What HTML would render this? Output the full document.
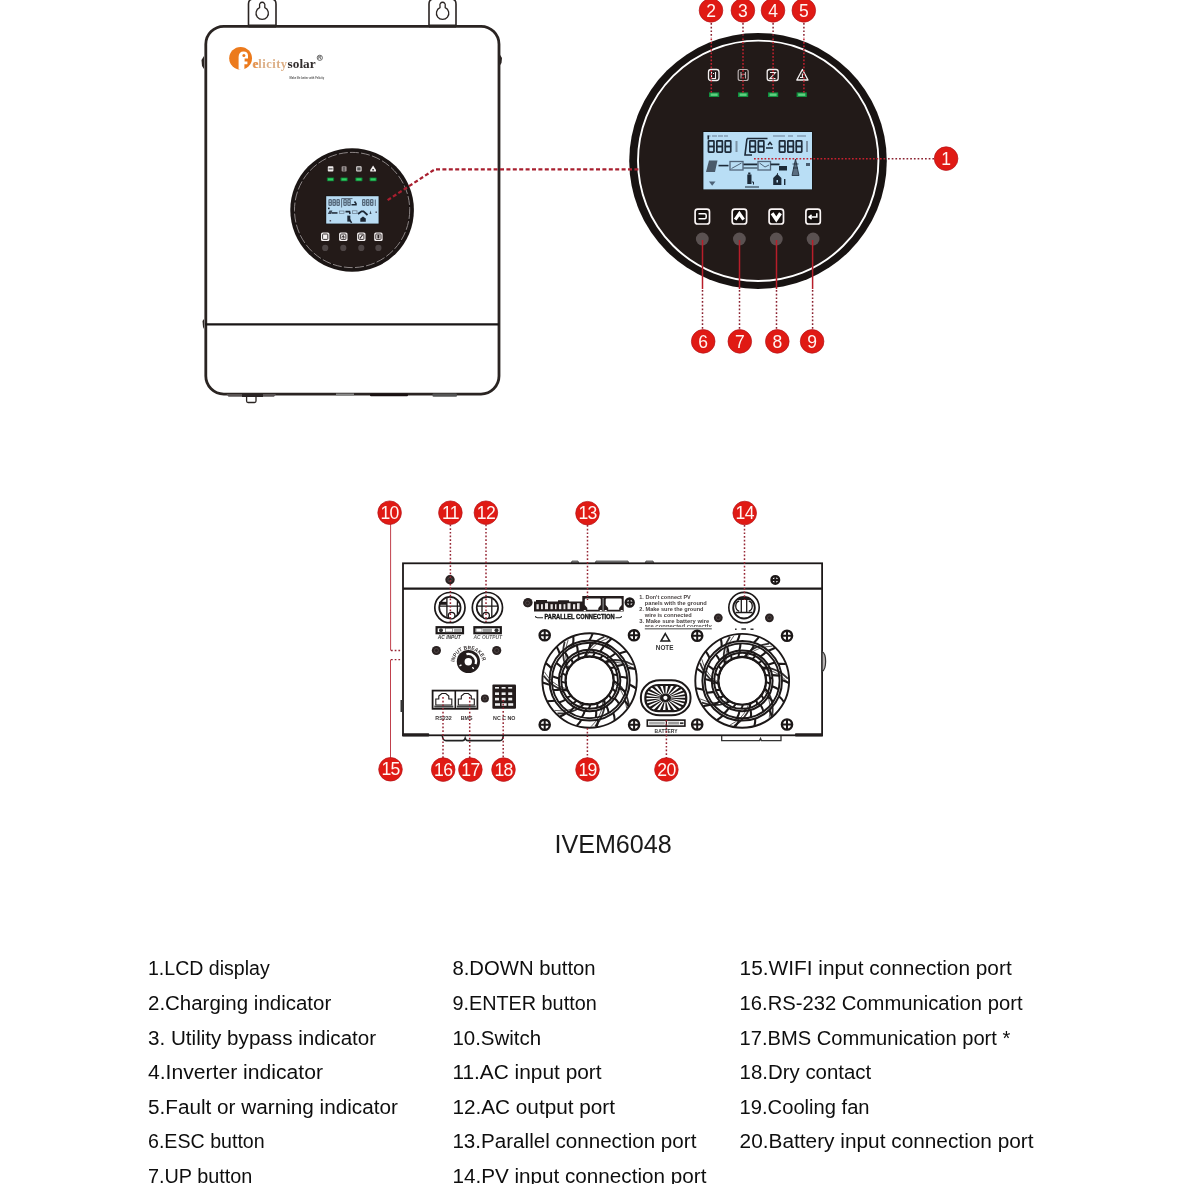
<!DOCTYPE html>
<html><head><meta charset="utf-8"><style>
html,body{margin:0;padding:0;background:#fff;width:1184px;height:1184px;overflow:hidden}
svg{display:block;position:absolute;left:0;top:0;will-change:transform}
</style></head><body>
<svg width="1184" height="1184" viewBox="0 0 1184 1184">
<path d="M248.5,27 L248.5,4 Q248.5,-1 253.5,-1 L271,-1 Q276,-1 276,4 L276,27" fill="#fff" stroke="#2a2422" stroke-width="1.6"/>
<path d="M259.60,7.6 A6.2,6.2 0 1 0 264.80,7.6 L264.80,5.7 A2.7,2.7 0 1 0 259.60,5.7 Z" fill="none" stroke="#2a2422" stroke-width="1.3"/>
<path d="M429,27 L429,4 Q429,-1 434,-1 L451,-1 Q456,-1 456,4 L456,27" fill="#fff" stroke="#2a2422" stroke-width="1.6"/>
<path d="M440.00,7.6 A6.2,6.2 0 1 0 445.20,7.6 L445.20,5.7 A2.7,2.7 0 1 0 440.00,5.7 Z" fill="none" stroke="#2a2422" stroke-width="1.3"/>
<rect x="205.8" y="26.3" width="293.2" height="367.8" rx="18" fill="#fff" stroke="#2a2422" stroke-width="2.8"/>
<rect x="248.5" y="24.5" width="27.5" height="3" fill="#2a2422"/>
<rect x="429" y="24.5" width="27" height="3" fill="#2a2422"/>
<line x1="205" y1="324.3" x2="499" y2="324.3" stroke="#1a1616" stroke-width="2.2"/>
<path d="M204,56 L201.5,60 L202,66 L204,69 Z" fill="#2a2422"/>
<path d="M499.5,54 L502,58 L501.5,63 L499.5,66 Z" fill="#2a2422"/>
<path d="M204,319 L202.5,321 L203,327 L204,329 Z" fill="#2a2422"/>
<path d="M226.5,394 L228.5,396.8 L274,396.8 L276,394 Z" fill="#5a5454"/>
<rect x="242" y="394" width="21" height="3" fill="#2a2424"/>
<path d="M246.6,396 L246.6,401 Q246.6,402.5 248,402.5 L254.5,402.5 Q256,402.5 256,401 L256,396" fill="none" stroke="#2a2422" stroke-width="1.3"/>
<rect x="370" y="393.5" width="38" height="2.8" rx="1" fill="#1a1212"/>
<rect x="432.5" y="393.5" width="24.5" height="3.2" rx="1" fill="#555"/>
<rect x="336" y="393.5" width="18" height="2" fill="#888"/>
<circle cx="240.6" cy="58.3" r="11.4" fill="#ec7a1c"/>
<path d="M238.6,69.6 L238.6,57 Q238.6,51.4 243.6,51.4 Q247.8,51.4 248,55.5 L248,58.4 L244.6,58.4 L244.6,61.6 L247.4,61.6 L247.4,64.2 L244.4,64.2 L244.4,69.4 Q241.5,70.3 238.6,69.6 Z" fill="#fff"/>
<circle cx="243.9" cy="55.6" r="1.5" fill="#ec7a1c"/>
<text x="252.3" y="68" font-family="Liberation Serif" font-weight="bold" font-size="12.5" fill="#dcae85" textLength="34.8" lengthAdjust="spacing">elicity</text>
<text x="253" y="68" font-family="Liberation Serif" font-weight="bold" font-size="12.5" fill="#e8924a">e</text>
<text x="287.6" y="68" font-family="Liberation Serif" font-weight="bold" font-size="12.5" fill="#332e2e" textLength="28" lengthAdjust="spacingAndGlyphs">solar</text>
<circle cx="319.8" cy="57.8" r="2.6" fill="none" stroke="#444" stroke-width="0.8"/>
<text x="319.8" y="59.3" text-anchor="middle" font-family="Liberation Sans" font-weight="bold" font-size="4" fill="#444">R</text>
<text x="289.6" y="79" font-family="Liberation Sans" font-weight="bold" font-size="3.2" fill="#555" textLength="34.5" lengthAdjust="spacingAndGlyphs">Make life better with Felicity</text>
<ellipse cx="758" cy="161" rx="128.8" ry="127.9" fill="#181312"/>
<circle cx="758.2" cy="160.8" r="119.4" fill="#221a18"/>
<circle cx="758.2" cy="160.8" r="120.2" fill="none" stroke="#fff" stroke-width="1.9"/>
<rect x="708.5" y="69.5" width="10.5" height="11" rx="2.5" fill="none" stroke="#f4f0f0" stroke-width="1.3"/><path d="M711.5,72 L711.5,78.5 L715.5,78.5 L715.5,72 M713,73.5 L714,73.5" fill="none" stroke="#f4f0f0" stroke-width="1.1"/><rect x="738.2" y="69.5" width="10" height="11" rx="2" fill="none" stroke="#b8b0b0" stroke-width="1.2"/><path d="M741,72 L741,78.5 M745.5,72 L745.5,78.5 M741,75 L745.5,74" fill="none" stroke="#b8b0b0" stroke-width="1.1"/><rect x="767.2" y="69.5" width="11" height="11" rx="2.2" fill="none" stroke="#f4f0f0" stroke-width="1.3"/><path d="M770,72.5 L775.5,72.5 L770,78.5 L775.5,78.5" fill="none" stroke="#f4f0f0" stroke-width="1.1"/><path d="M802.4,69.5 L808,80 L796.8,80 Z" fill="none" stroke="#f4f0f0" stroke-width="1.3" stroke-linejoin="round"/><path d="M802.4,73.5 L802.4,77 M800,77.5 L804,77.5" fill="none" stroke="#f4f0f0" stroke-width="1.1"/><rect x="709" y="92.4" width="10.2" height="4.6" fill="#11913f"/><rect x="710.6" y="93.5" width="7" height="2.4" fill="#5fcf80"/><rect x="738" y="92.4" width="10.2" height="4.6" fill="#11913f"/><rect x="739.6" y="93.5" width="7" height="2.4" fill="#5fcf80"/><rect x="768" y="92.4" width="10.2" height="4.6" fill="#11913f"/><rect x="769.6" y="93.5" width="7" height="2.4" fill="#5fcf80"/><rect x="796.6" y="92.4" width="10.2" height="4.6" fill="#11913f"/><rect x="798.2" y="93.5" width="7" height="2.4" fill="#5fcf80"/><rect x="702.6" y="131.2" width="110" height="58.6" fill="#111" /><rect x="703.4" y="132" width="108.6" height="57.4" fill="#b9def5"/><rect x="708.45" y="140.85" width="5.50" height="5.65" fill="none" stroke="#1d2a38" stroke-width="1.7" rx="0.6"/><rect x="708.45" y="146.50" width="5.50" height="5.65" fill="none" stroke="#1d2a38" stroke-width="1.7" rx="0.6"/><rect x="716.85" y="140.85" width="5.50" height="5.65" fill="none" stroke="#1d2a38" stroke-width="1.7" rx="0.6"/><rect x="716.85" y="146.50" width="5.50" height="5.65" fill="none" stroke="#1d2a38" stroke-width="1.7" rx="0.6"/><rect x="725.25" y="140.85" width="5.50" height="5.65" fill="none" stroke="#1d2a38" stroke-width="1.7" rx="0.6"/><rect x="725.25" y="146.50" width="5.50" height="5.65" fill="none" stroke="#1d2a38" stroke-width="1.7" rx="0.6"/><rect x="749.85" y="140.85" width="5.50" height="5.65" fill="none" stroke="#1d2a38" stroke-width="1.7" rx="0.6"/><rect x="749.85" y="146.50" width="5.50" height="5.65" fill="none" stroke="#1d2a38" stroke-width="1.7" rx="0.6"/><rect x="758.35" y="140.85" width="5.50" height="5.65" fill="none" stroke="#1d2a38" stroke-width="1.7" rx="0.6"/><rect x="758.35" y="146.50" width="5.50" height="5.65" fill="none" stroke="#1d2a38" stroke-width="1.7" rx="0.6"/><rect x="779.45" y="140.85" width="5.50" height="5.65" fill="none" stroke="#1d2a38" stroke-width="1.7" rx="0.6"/><rect x="779.45" y="146.50" width="5.50" height="5.65" fill="none" stroke="#1d2a38" stroke-width="1.7" rx="0.6"/><rect x="787.85" y="140.85" width="5.50" height="5.65" fill="none" stroke="#1d2a38" stroke-width="1.7" rx="0.6"/><rect x="787.85" y="146.50" width="5.50" height="5.65" fill="none" stroke="#1d2a38" stroke-width="1.7" rx="0.6"/><rect x="796.25" y="140.85" width="5.50" height="5.65" fill="none" stroke="#1d2a38" stroke-width="1.7" rx="0.6"/><rect x="796.25" y="146.50" width="5.50" height="5.65" fill="none" stroke="#1d2a38" stroke-width="1.7" rx="0.6"/><path d="M747,138.5 L767.5,138.5 M747,138.5 L745,155 L752,155" fill="none" stroke="#1d2a38" stroke-width="1.6"/><rect x="735.5" y="141" width="2" height="11" fill="#7d93a6"/><rect x="806" y="141" width="2" height="11" fill="#7d93a6"/><path d="M766,148 L773,148 M768,145 L770,142.5 L772,145" fill="none" stroke="#1d2a38" stroke-width="1.5"/><rect x="707.5" y="135.5" width="3" height="1" fill="#6a7f95"/><rect x="712" y="135.5" width="5" height="1" fill="#6a7f95"/><rect x="718" y="135.5" width="5" height="1" fill="#6a7f95"/><rect x="724" y="135.5" width="4" height="1" fill="#6a7f95"/><rect x="773" y="135.5" width="12" height="1" fill="#6a7f95"/><rect x="788" y="135.5" width="5" height="1" fill="#6a7f95"/><rect x="797" y="135.5" width="9" height="1" fill="#6a7f95"/><rect x="707.5" y="135.5" width="1.6" height="4" fill="#1d2a38"/><path d="M706,172 L709,160.5 L717.5,160.5 L715,172 Z" fill="#4a5a6a"/><rect x="718.5" y="164.8" width="10" height="1.6" fill="#1d2a38"/><rect x="730" y="161.5" width="13" height="8.5" fill="none" stroke="#52657a" stroke-width="1.3"/><path d="M731.5,168.5 L741.5,163" stroke="#52657a" stroke-width="1"/><rect x="743.5" y="163.5" width="14" height="1.8" fill="#1d2a38"/><rect x="743.5" y="167.5" width="14" height="1" fill="#1d2a38"/><rect x="758" y="161.5" width="12.5" height="8.5" fill="none" stroke="#52657a" stroke-width="1.3"/><path d="M759.5,163 L765,167 L769,165" fill="none" stroke="#52657a" stroke-width="1"/><rect x="770.5" y="163.5" width="9" height="1.8" fill="#1d2a38"/><rect x="779" y="166" width="8" height="4.5" fill="#1d2a38"/><path d="M795.5,159 L792,175.5 L799,175.5 Z M792.5,164 L798.5,164 M793,168 L798,168" fill="#5a6d80" stroke="#1d2a38" stroke-width="0.8"/><rect x="806" y="163" width="4" height="3" fill="#4a5d70"/><path d="M709,181.5 L715.5,181.5 L712.2,185.8 Z" fill="#4e6378"/><rect x="747.3" y="174.5" width="4.2" height="9.5" fill="#1d2a38"/><rect x="748.2" y="172.5" width="2.2" height="2" fill="#1d2a38"/><path d="M752,182 L753.5,182 L753.5,184.5" stroke="#1d2a38" fill="none" stroke-width="1"/><rect x="745" y="186.5" width="14" height="1" fill="#1d2a38"/><path d="M773.2,178 L777.3,174 L781.4,178 L781.4,185 L773.2,185 Z" fill="#1d2a38"/><rect x="777" y="173" width="0.8" height="3" fill="#1d2a38"/><rect x="784" y="179" width="1.4" height="6" fill="#1d2a38"/><rect x="776.5" y="180" width="1.5" height="2.5" fill="#b9def5"/><rect x="695.1" y="209.2" width="14.4" height="14.8" rx="2.6" fill="#140f0e" stroke="#fbf6f6" stroke-width="1.7"/><rect x="732.2" y="209.2" width="14.4" height="14.8" rx="2.6" fill="#140f0e" stroke="#fbf6f6" stroke-width="1.7"/><rect x="769.1" y="209.2" width="14.4" height="14.8" rx="2.6" fill="#140f0e" stroke="#fbf6f6" stroke-width="1.7"/><rect x="805.9" y="209.2" width="14.4" height="14.8" rx="2.6" fill="#140f0e" stroke="#fbf6f6" stroke-width="1.7"/><path d="M698.5,213.8 L704.8,213.8 Q706.2,213.8 706.2,215.3 L706.2,217.3 Q706.2,218.8 704.8,218.8 L698.5,218.8" fill="none" stroke="#fff" stroke-width="1.5"/><path d="M735.2,219.6 L739.4,213.6 L743.6,219.6" fill="none" stroke="#fff" stroke-width="3.2"/><path d="M772.1,213.2 L776.3,219.4 L780.5,213.2" fill="none" stroke="#fff" stroke-width="3.4"/><path d="M816.8,213.2 L816.8,217 L809,217 M811.6,214.8 L809,217 L811.6,219.2" fill="none" stroke="#fff" stroke-width="1.6"/><circle cx="702.3" cy="239" r="6.4" fill="#5a5151"/><circle cx="739.4" cy="239" r="6.4" fill="#5a5151"/><circle cx="776.3" cy="239" r="6.4" fill="#5a5151"/><circle cx="813.1" cy="239" r="6.4" fill="#5a5151"/>
<circle cx="352.1" cy="210.0" r="61.8" fill="#1b1514"/>
<circle cx="352.1" cy="210.0" r="56.8" fill="#231a18"/>
<circle cx="352.1" cy="210.0" r="57.6" fill="none" stroke="#9a9292" stroke-width="0.9" stroke-dasharray="9 2.2"/>
<rect x="327.8" y="166.3" width="5.6" height="5.2" rx="0.8" fill="#f0ecec"/><rect x="328.6" y="168.4" width="4" height="1" fill="#333"/>
<rect x="341.6" y="166.3" width="5" height="5.2" rx="0.8" fill="#9a9090"/><rect x="343.4" y="167" width="1.2" height="4" fill="#444"/>
<rect x="356.2" y="166.3" width="5.4" height="5.2" rx="0.8" fill="#e8e4e4"/><rect x="357.2" y="167.3" width="3.4" height="3.2" fill="#555"/>
<path d="M373.1,165.6 L376,170 L376,171.6 L370.2,171.6 L370.2,170 Z" fill="#f4f0f0"/><rect x="372.3" y="169" width="1.6" height="1.6" fill="#333"/>
<rect x="326.9" y="177.6" width="7.2" height="3.6" rx="0.6" fill="#0f7a34"/>
<rect x="327.9" y="178.3" width="5.2" height="2.2" fill="#2fd062"/>
<rect x="340.5" y="177.6" width="7.2" height="3.6" rx="0.6" fill="#0f7a34"/>
<rect x="341.5" y="178.3" width="5.2" height="2.2" fill="#2fd062"/>
<rect x="355.3" y="177.6" width="7.2" height="3.6" rx="0.6" fill="#0f7a34"/>
<rect x="356.3" y="178.3" width="5.2" height="2.2" fill="#2fd062"/>
<rect x="369.5" y="177.6" width="7.2" height="3.6" rx="0.6" fill="#0f7a34"/>
<rect x="370.5" y="178.3" width="5.2" height="2.2" fill="#2fd062"/>
<rect x="325.6" y="195.6" width="53.6" height="28.6" fill="#111"/>
<rect x="326.2" y="196.2" width="52.4" height="27.4" fill="#b9dcf3"/>
<rect x="329.00" y="199.60" width="2.30" height="2.90" fill="none" stroke="#56687a" stroke-width="1.2" rx="0.6"/><rect x="329.00" y="202.50" width="2.30" height="2.90" fill="none" stroke="#56687a" stroke-width="1.2" rx="0.6"/>
<rect x="333.00" y="199.60" width="2.30" height="2.90" fill="none" stroke="#56687a" stroke-width="1.2" rx="0.6"/><rect x="333.00" y="202.50" width="2.30" height="2.90" fill="none" stroke="#56687a" stroke-width="1.2" rx="0.6"/>
<rect x="337.00" y="199.60" width="2.30" height="2.90" fill="none" stroke="#56687a" stroke-width="1.2" rx="0.6"/><rect x="337.00" y="202.50" width="2.30" height="2.90" fill="none" stroke="#56687a" stroke-width="1.2" rx="0.6"/>
<path d="M341.6,198.6 L352.5,198.6 M341.6,198.6 L341.6,207.5" stroke="#56687a" stroke-width="1" fill="none"/>
<rect x="343.90" y="199.60" width="2.30" height="2.90" fill="none" stroke="#56687a" stroke-width="1.2" rx="0.6"/><rect x="343.90" y="202.50" width="2.30" height="2.90" fill="none" stroke="#56687a" stroke-width="1.2" rx="0.6"/>
<rect x="347.90" y="199.60" width="2.30" height="2.90" fill="none" stroke="#56687a" stroke-width="1.2" rx="0.6"/><rect x="347.90" y="202.50" width="2.30" height="2.90" fill="none" stroke="#56687a" stroke-width="1.2" rx="0.6"/>
<path d="M351.5,204.8 L356,204.8 L356,203.5 L354.5,201.5" stroke="#1c2633" stroke-width="1.5" fill="none"/>
<rect x="362.60" y="199.60" width="2.30" height="2.90" fill="none" stroke="#56687a" stroke-width="1.2" rx="0.6"/><rect x="362.60" y="202.50" width="2.30" height="2.90" fill="none" stroke="#56687a" stroke-width="1.2" rx="0.6"/>
<rect x="366.60" y="199.60" width="2.30" height="2.90" fill="none" stroke="#56687a" stroke-width="1.2" rx="0.6"/><rect x="366.60" y="202.50" width="2.30" height="2.90" fill="none" stroke="#56687a" stroke-width="1.2" rx="0.6"/>
<rect x="370.60" y="199.60" width="2.30" height="2.90" fill="none" stroke="#56687a" stroke-width="1.2" rx="0.6"/><rect x="370.60" y="202.50" width="2.30" height="2.90" fill="none" stroke="#56687a" stroke-width="1.2" rx="0.6"/>
<rect x="374.8" y="199.5" width="1" height="6.5" fill="#56687a"/>
<rect x="328" y="207.6" width="1.6" height="1.6" fill="#1c2633"/>
<path d="M327.8,214 L329.6,210.4 L332.4,210.4 L331,214 Z" fill="#3a4858"/>
<rect x="331.5" y="212.2" width="6" height="1.5" fill="#1c2633"/>
<rect x="339.5" y="211" width="4.5" height="2.6" fill="none" stroke="#6a7a8a" stroke-width="0.7"/>
<path d="M345.5,211.6 L349.5,211.6 L350,214" stroke="#1c2633" stroke-width="1.6" fill="none"/>
<rect x="352.5" y="210.8" width="4.5" height="2.8" fill="none" stroke="#6a7a8a" stroke-width="0.7"/>
<path d="M358,214 L361.5,211.3 L363.5,211.3 L367.5,215" stroke="#1c2633" stroke-width="1.8" fill="none"/>
<path d="M370.5,210.5 L371.5,214 L369.5,214 Z" fill="#3a4858"/>
<rect x="375.5" y="211.5" width="1.4" height="1.4" fill="#445"/>
<rect x="347.3" y="215.6" width="3" height="6" fill="#1c2633"/><path d="M349.5,219.5 L351.6,222.8" stroke="#1c2633" stroke-width="1.5"/>
<path d="M360.3,218.6 L363,216.4 L365.8,218.6 L365.8,221.8 L360.3,221.8 Z" fill="#1c2633"/>
<rect x="329.6" y="220" width="1.5" height="1.5" fill="#556"/>
<rect x="321.0" y="232.4" width="8.4" height="8.6" rx="1.6" fill="#f6f2f2"/>
<rect x="322.6" y="234" width="5.2" height="5.4" rx="0.8" fill="none" stroke="#2a2222" stroke-width="0.9"/>
<rect x="339.1" y="232.4" width="8.4" height="8.6" rx="1.6" fill="#f6f2f2"/>
<rect x="340.7" y="234" width="5.2" height="5.4" rx="0.8" fill="none" stroke="#2a2222" stroke-width="0.9"/>
<rect x="357.1" y="232.4" width="8.4" height="8.6" rx="1.6" fill="#f6f2f2"/>
<rect x="358.7" y="234" width="5.2" height="5.4" rx="0.8" fill="none" stroke="#2a2222" stroke-width="0.9"/>
<rect x="374.2" y="232.4" width="8.4" height="8.6" rx="1.6" fill="#f6f2f2"/>
<rect x="375.8" y="234" width="5.2" height="5.4" rx="0.8" fill="none" stroke="#2a2222" stroke-width="0.9"/>
<path d="M342,237.5 L343.3,235.6 L344.6,237.5 M343.3,235.6 L343.3,238.6" stroke="#2a2222" stroke-width="0.9" fill="none"/>
<path d="M360,238.4 L362.6,234.8" stroke="#2a2222" stroke-width="1.1"/>
<rect x="377.4" y="234.8" width="2" height="3.6" fill="#2a2222"/>
<circle cx="325.2" cy="247.9" r="3.1" fill="#4d4545"/>
<circle cx="343.3" cy="247.9" r="3.1" fill="#4d4545"/>
<circle cx="361.3" cy="247.9" r="3.1" fill="#4d4545"/>
<circle cx="378.4" cy="247.9" r="3.1" fill="#4d4545"/>
<polyline points="387.6,200.2 434.9,169.3 639.5,169.3" fill="none" stroke="#a81f2f" stroke-width="2.2" stroke-dasharray="4 2.4"/>
<line x1="711.3" y1="23" x2="711.3" y2="38" stroke="#8a2230" stroke-width="1.5" stroke-dasharray="1.7 2"/>
<line x1="711.3" y1="38.5" x2="711.3" y2="92.5" stroke="#c4202e" stroke-width="1.5" stroke-dasharray="1.7 1.8"/>
<line x1="743" y1="23" x2="743" y2="38" stroke="#8a2230" stroke-width="1.5" stroke-dasharray="1.7 2"/>
<line x1="743" y1="38.5" x2="743" y2="92.5" stroke="#c4202e" stroke-width="1.5" stroke-dasharray="1.7 1.8"/>
<line x1="773.1" y1="23" x2="773.1" y2="38" stroke="#8a2230" stroke-width="1.5" stroke-dasharray="1.7 2"/>
<line x1="773.1" y1="38.5" x2="773.1" y2="92.5" stroke="#c4202e" stroke-width="1.5" stroke-dasharray="1.7 1.8"/>
<line x1="803.9" y1="23" x2="803.9" y2="38" stroke="#8a2230" stroke-width="1.5" stroke-dasharray="1.7 2"/>
<line x1="803.9" y1="38.5" x2="803.9" y2="92.5" stroke="#c4202e" stroke-width="1.5" stroke-dasharray="1.7 1.8"/>
<line x1="702.5" y1="240" x2="702.5" y2="289" stroke="#b81e2a" stroke-width="1.5"/>
<line x1="702.5" y1="290" x2="702.5" y2="330" stroke="#8a2230" stroke-width="1.5" stroke-dasharray="1.7 2"/>
<line x1="739.5" y1="240" x2="739.5" y2="289" stroke="#b81e2a" stroke-width="1.5"/>
<line x1="739.5" y1="290" x2="739.5" y2="330" stroke="#8a2230" stroke-width="1.5" stroke-dasharray="1.7 2"/>
<line x1="776.5" y1="240" x2="776.5" y2="289" stroke="#b81e2a" stroke-width="1.5"/>
<line x1="776.5" y1="290" x2="776.5" y2="330" stroke="#8a2230" stroke-width="1.5" stroke-dasharray="1.7 2"/>
<line x1="812.6" y1="240" x2="812.6" y2="289" stroke="#b81e2a" stroke-width="1.5"/>
<line x1="812.6" y1="290" x2="812.6" y2="330" stroke="#8a2230" stroke-width="1.5" stroke-dasharray="1.7 2"/>
<line x1="754" y1="158.7" x2="887" y2="158.7" stroke="#c4202e" stroke-width="1.5" stroke-dasharray="1.7 1.8"/>
<line x1="888" y1="158.7" x2="934.5" y2="158.7" stroke="#8a2230" stroke-width="1.5" stroke-dasharray="1.7 2"/>
<circle cx="711" cy="10.4" r="11.8" fill="#e01a14" stroke="#b5141a" stroke-width="0.7"/>
<text x="711" y="16.5" text-anchor="middle" font-family="Liberation Sans" font-size="17.5" fill="#fff5f2">2</text>
<circle cx="742.9" cy="10.4" r="11.8" fill="#e01a14" stroke="#b5141a" stroke-width="0.7"/>
<text x="742.9" y="16.5" text-anchor="middle" font-family="Liberation Sans" font-size="17.5" fill="#fff5f2">3</text>
<circle cx="773" cy="10.4" r="11.8" fill="#e01a14" stroke="#b5141a" stroke-width="0.7"/>
<text x="773" y="16.5" text-anchor="middle" font-family="Liberation Sans" font-size="17.5" fill="#fff5f2">4</text>
<circle cx="803.8" cy="10.4" r="11.8" fill="#e01a14" stroke="#b5141a" stroke-width="0.7"/>
<text x="803.8" y="16.5" text-anchor="middle" font-family="Liberation Sans" font-size="17.5" fill="#fff5f2">5</text>
<circle cx="703.2" cy="341.4" r="11.8" fill="#e01a14" stroke="#b5141a" stroke-width="0.7"/>
<text x="703.2" y="347.5" text-anchor="middle" font-family="Liberation Sans" font-size="17.5" fill="#fff5f2">6</text>
<circle cx="739.8" cy="341.4" r="11.8" fill="#e01a14" stroke="#b5141a" stroke-width="0.7"/>
<text x="739.8" y="347.5" text-anchor="middle" font-family="Liberation Sans" font-size="17.5" fill="#fff5f2">7</text>
<circle cx="777.3" cy="341.4" r="11.8" fill="#e01a14" stroke="#b5141a" stroke-width="0.7"/>
<text x="777.3" y="347.5" text-anchor="middle" font-family="Liberation Sans" font-size="17.5" fill="#fff5f2">8</text>
<circle cx="812.1" cy="341.4" r="11.8" fill="#e01a14" stroke="#b5141a" stroke-width="0.7"/>
<text x="812.1" y="347.5" text-anchor="middle" font-family="Liberation Sans" font-size="17.5" fill="#fff5f2">9</text>
<circle cx="946.1" cy="158.6" r="11.8" fill="#e01a14" stroke="#b5141a" stroke-width="0.7"/>
<text x="946.1" y="164.7" text-anchor="middle" font-family="Liberation Sans" font-size="17.5" fill="#fff5f2">1</text>
<path d="M571,563.5 L572,561 L578,561 L579,563.5 M595,563.5 L596,561 L628,561 L629,563.5 M645,563.5 L646,561 L653,561 L654,563.5" fill="#888" stroke="#444" stroke-width="0.8"/>
<rect x="403" y="563.3" width="419.1" height="172" fill="#fff" stroke="#1c1818" stroke-width="1.8"/>
<line x1="403" y1="588.6" x2="822.1" y2="588.6" stroke="#1c1818" stroke-width="2.1"/>
<rect x="402.2" y="733.2" width="27" height="3.4" rx="0.8" fill="#231e1e"/>
<rect x="795" y="733.2" width="28" height="3.4" rx="0.8" fill="#231e1e"/>
<path d="M442.3,736 Q443,740.6 446,740.6 L462.5,740.6 Q464.5,740.6 465.2,738.2 Q466,740.6 468,740.6 L500,740.6 Q502.8,740.6 503.2,736" fill="none" stroke="#222" stroke-width="1.6"/>
<path d="M721.7,736 L721.7,740.6 L759.6,740.6 L760.5,738.5 L761.4,740.6 L781,740.6 L781,736" fill="none" stroke="#333" stroke-width="1.3"/>
<rect x="400.5" y="700" width="2.5" height="12" fill="#333"/>
<path d="M822.1,651.5 C826.8,654 826.8,669 822.1,671.5 Z" fill="#b8b4b4" stroke="#333" stroke-width="1.2"/>
<circle cx="450" cy="579.7" r="4.7" fill="#2a2222"/>
<circle cx="450" cy="579.7" r="2.12" fill="none" stroke="#5a5050" stroke-width="0.7"/>
<circle cx="775.3" cy="579.9" r="3.80" fill="#fff" stroke="#1c1818" stroke-width="2.4"/>
<path d="M771.70,579.9 L778.90,579.9 M775.3,576.30 L775.3,583.50" stroke="#1c1818" stroke-width="2"/>
<circle cx="449.9" cy="607.6" r="15.1" fill="#fff" stroke="#1c1818" stroke-width="1.7"/>
<circle cx="449.9" cy="607.6" r="10.7" fill="#fff" stroke="#1c1818" stroke-width="1.7"/>
<path d="M439.70,606.2 L460.10,606.2 M446.9,597.75 L446.9,617.45 M457.4,600.54 L457.4,614.66" stroke="#1c1818" stroke-width="1.3"/>
<circle cx="451.6" cy="615.6" r="3.3" fill="#fff" stroke="#1c1818" stroke-width="1.3"/>
<rect x="439" y="601.8" width="7.9" height="3" fill="#1c1818"/>
<circle cx="487.4" cy="607.6" r="15.1" fill="#fff" stroke="#1c1818" stroke-width="1.7"/>
<circle cx="487.4" cy="607.6" r="10.7" fill="#fff" stroke="#1c1818" stroke-width="1.7"/>
<path d="M477.20,606.2 L497.60,606.2 M482,598.83 L482,616.37 M491.8,598.29 L491.8,616.91" stroke="#1c1818" stroke-width="1.3"/>
<circle cx="486.1" cy="615.6" r="3.3" fill="#fff" stroke="#1c1818" stroke-width="1.3"/>
<rect x="436.6" y="627.2" width="26.4" height="6" fill="#fff" stroke="#1c1818" stroke-width="2.2"/>
<rect x="474.4" y="627.2" width="26.4" height="6" fill="#fff" stroke="#1c1818" stroke-width="2.2"/>
<circle cx="441" cy="630.2" r="2" fill="#333"/><rect x="445.5" y="628.4" width="7" height="3.6" fill="#fff" stroke="#555" stroke-width="0.6"/><rect x="454" y="628.4" width="7.4" height="3.6" fill="#aaa"/>
<rect x="476" y="628.4" width="6" height="3.6" fill="#fff" stroke="#555" stroke-width="0.6"/><rect x="483" y="628.4" width="9" height="3.6" fill="#999"/><circle cx="496.5" cy="630.2" r="2" fill="#333"/>
<text x="437.8" y="639.3" font-family="Liberation Sans" font-style="italic" font-weight="bold" font-size="5.6" fill="#333" textLength="23" lengthAdjust="spacingAndGlyphs">AC INPUT</text>
<text x="473.5" y="639.3" font-family="Liberation Sans" font-style="italic" font-weight="bold" font-size="5.6" fill="#666" textLength="28.5" lengthAdjust="spacingAndGlyphs">AC OUTPUT</text>
<circle cx="436.4" cy="650.5" r="4.6" fill="#2a2222"/>
<circle cx="436.4" cy="650.5" r="2.07" fill="none" stroke="#5a5050" stroke-width="0.7"/>
<circle cx="496.7" cy="650.5" r="4.6" fill="#2a2222"/>
<circle cx="496.7" cy="650.5" r="2.07" fill="none" stroke="#5a5050" stroke-width="0.7"/>
<circle cx="528" cy="602.6" r="4.6" fill="#2a2222"/>
<circle cx="528" cy="602.6" r="2.07" fill="none" stroke="#5a5050" stroke-width="0.7"/>
<circle cx="468.4" cy="661.5" r="11.6" fill="#231c1c"/>
<path d="M466.43,654.16 A7.6,7.6 0 0 1 475.54,664.10" fill="none" stroke="#fff" stroke-width="2.3"/>
<circle cx="468.3" cy="661.8" r="3.7" fill="#fff"/>
<path d="M459.5,665.8 L461.5,664.8 M472.5,667 L473.6,669" stroke="#fff" stroke-width="1.4"/>
<path id="brk" d="M454.4,662 A14.2,14.2 0 0 1 482.6,662" fill="none"/>
<text font-family="Liberation Sans" font-weight="bold" font-size="5.4" fill="#3a3434"><textPath href="#brk" textLength="40" lengthAdjust="spacingAndGlyphs">INPUT BREAKER</textPath></text>
<rect x="432.6" y="690.6" width="44.8" height="18.2" fill="#fff" stroke="#1c1818" stroke-width="1.8"/>
<line x1="455.3" y1="690.6" x2="455.3" y2="708.8" stroke="#1c1818" stroke-width="1.6"/>
<path d="M435.8,705.0 L435.8,699 L438.8,699 L438.8,696 L441.8,693.5 L445.8,693.5 L448.8,696 L448.8,699 L451.8,699 L451.8,705 Z" fill="none" stroke="#1c1818" stroke-width="1.1"/>
<rect x="434.3" y="705.6" width="19" height="2" fill="#444"/>
<path d="M458.3,705.0 L458.3,699 L461.3,699 L461.3,696 L464.3,693.5 L468.3,693.5 L471.3,696 L471.3,699 L474.3,699 L474.3,705 Z" fill="none" stroke="#1c1818" stroke-width="1.1"/>
<rect x="456.8" y="705.6" width="19" height="2" fill="#444"/>
<circle cx="484.9" cy="698.4" r="4" fill="#2a2222"/>
<circle cx="484.9" cy="698.4" r="1.80" fill="none" stroke="#5a5050" stroke-width="0.7"/>
<rect x="492.4" y="684.6" width="23.6" height="24.2" rx="1" fill="#231c1c"/>
<rect x="495.0" y="687.0" width="4" height="1.6" fill="#eee"/>
<rect x="495.0" y="692.4" width="4" height="2.6" fill="#eee"/>
<rect x="495.0" y="697.8" width="4" height="2.6" fill="#eee"/>
<rect x="495.0" y="703.2" width="5" height="2.6" fill="#eee"/>
<rect x="501.6" y="687.0" width="4" height="1.6" fill="#eee"/>
<rect x="501.6" y="692.4" width="4" height="2.6" fill="#eee"/>
<rect x="501.6" y="697.8" width="4" height="2.6" fill="#eee"/>
<rect x="501.6" y="703.2" width="5" height="2.6" fill="#eee"/>
<rect x="508.2" y="687.0" width="4" height="1.6" fill="#eee"/>
<rect x="508.2" y="692.4" width="4" height="2.6" fill="#eee"/>
<rect x="508.2" y="697.8" width="4" height="2.6" fill="#eee"/>
<rect x="508.2" y="703.2" width="5" height="2.6" fill="#eee"/>
<text x="443.5" y="719.8" text-anchor="middle" font-family="Liberation Sans" font-weight="bold" font-size="5.2" fill="#3a3434" textLength="16.4" lengthAdjust="spacingAndGlyphs">RS232</text>
<text x="466.6" y="719.8" text-anchor="middle" font-family="Liberation Sans" font-weight="bold" font-size="5.2" fill="#3a3434" textLength="11.8" lengthAdjust="spacingAndGlyphs">BMS</text>
<text x="504.3" y="719.8" text-anchor="middle" font-family="Liberation Sans" font-weight="bold" font-size="5.2" fill="#3a3434" textLength="22.4" lengthAdjust="spacingAndGlyphs">NC  C  NO</text>
<path d="M534,611.6 L534,601.6 L536,601.6 L536,600 L547,600 L547,601.6 L558,601.6 L558,600.3 L569,600.3 L569,601.6 L582.3,601.6 L582.3,596 L623.7,596 L623.7,611.6 Z" fill="#231c1c"/>
<rect x="536.5" y="604.2" width="2.25" height="5" fill="#e8e4e4"/><rect x="541" y="604.2" width="1.88" height="5" fill="#e8e4e4"/><rect x="545" y="603.2" width="3.00" height="6" fill="#e8e4e4"/><rect x="550.5" y="604.2" width="2.25" height="5" fill="#e8e4e4"/><rect x="555" y="604.2" width="1.50" height="5" fill="#e8e4e4"/><rect x="559" y="604.2" width="2.25" height="5" fill="#e8e4e4"/><rect x="563.5" y="604.2" width="1.88" height="5" fill="#e8e4e4"/><rect x="567.5" y="603.2" width="3.00" height="6" fill="#e8e4e4"/><rect x="573" y="604.2" width="2.25" height="5" fill="#e8e4e4"/><rect x="577" y="603.2" width="2.62" height="6" fill="#e8e4e4"/>
<path d="M584.8,599.5 Q584.8,598.6 585.8,598.6 L599.8,598.6 Q600.8,598.6 600.8,599.5 L600.8,605 L598.3,608 L598.3,609.8 L587.3,609.8 L587.3,608 L584.8,605 Z" fill="#fff"/>
<rect x="583.8" y="610" width="2" height="1.2" fill="#fff"/><rect x="599.8" y="610" width="2" height="1.2" fill="#fff"/>
<path d="M605.7,599.5 Q605.7,598.6 606.7,598.6 L620.7,598.6 Q621.7,598.6 621.7,599.5 L621.7,605 L619.2,608 L619.2,609.8 L608.2,609.8 L608.2,608 L605.7,605 Z" fill="#fff"/>
<rect x="604.7" y="610" width="2" height="1.2" fill="#fff"/><rect x="620.7" y="610" width="2" height="1.2" fill="#fff"/>
<rect x="602.4" y="598" width="1.5" height="13" fill="#777"/>
<path d="M535.5,616 Q535.5,617.8 537.5,617.8 L543,617.8 M615.5,617.8 L619.5,617.8 Q621.5,617.8 621.5,616" fill="none" stroke="#222" stroke-width="1.1"/>
<text x="544.4" y="618.8" font-family="Liberation Sans" font-weight="bold" font-size="6.4" fill="#111" stroke="#111" stroke-width="0.35" textLength="70.3" lengthAdjust="spacingAndGlyphs">PARALLEL CONNECTION</text>
<circle cx="527.5" cy="603" r="4.3" fill="#2a2222"/>
<circle cx="527.5" cy="603" r="1.94" fill="none" stroke="#5a5050" stroke-width="0.7"/>
<circle cx="629.7" cy="602.5" r="4.00" fill="#fff" stroke="#1c1818" stroke-width="2.4"/>
<path d="M625.90,602.5 L633.50,602.5 M629.7,598.70 L629.7,606.30" stroke="#1c1818" stroke-width="2"/>
<text x="639.3" y="599.3" font-family="Liberation Sans" font-weight="bold" font-size="5.6" fill="#4a4444" textLength="51.5" lengthAdjust="spacingAndGlyphs">1. Don't connect PV</text>
<text x="644.8" y="605.2" font-family="Liberation Sans" font-weight="bold" font-size="5.6" fill="#4a4444" textLength="62" lengthAdjust="spacingAndGlyphs">panels with the ground</text>
<text x="639.3" y="610.9" font-family="Liberation Sans" font-weight="bold" font-size="5.6" fill="#4a4444" textLength="64.2" lengthAdjust="spacingAndGlyphs">2. Make sure the ground</text>
<text x="644.8" y="616.7" font-family="Liberation Sans" font-weight="bold" font-size="5.6" fill="#4a4444" textLength="47" lengthAdjust="spacingAndGlyphs">wire is connected</text>
<text x="639.3" y="622.8" font-family="Liberation Sans" font-weight="bold" font-size="5.6" fill="#4a4444" textLength="70" lengthAdjust="spacingAndGlyphs">3. Make sure battery wire</text>
<text x="644.8" y="628.2" font-family="Liberation Sans" font-weight="bold" font-size="5.6" fill="#4a4444" textLength="67" lengthAdjust="spacingAndGlyphs">are connected correctly</text>
<rect x="644.5" y="626.9" width="67.4" height="2.2" fill="#fff"/>
<rect x="644.8" y="628.4" width="67" height="0.9" fill="#333"/>
<path d="M665.3,633.6 L669.6,641 L661,641 Z" fill="none" stroke="#1e1e1e" stroke-width="1.5"/>
<text x="655.8" y="650.2" font-family="Liberation Sans" font-weight="bold" font-size="6.6" fill="#333" textLength="17.7" lengthAdjust="spacingAndGlyphs">NOTE</text>
<circle cx="544.7" cy="635.3" r="5.10" fill="#fff" stroke="#1c1818" stroke-width="2.4"/>
<path d="M539.80,635.3 L549.60,635.3 M544.7,630.40 L544.7,640.20" stroke="#1c1818" stroke-width="2"/>
<circle cx="634" cy="635.3" r="5.10" fill="#fff" stroke="#1c1818" stroke-width="2.4"/>
<path d="M629.10,635.3 L638.90,635.3 M634,630.40 L634,640.20" stroke="#1c1818" stroke-width="2"/>
<circle cx="544.7" cy="724.8" r="5.10" fill="#fff" stroke="#1c1818" stroke-width="2.4"/>
<path d="M539.80,724.8 L549.60,724.8 M544.7,719.90 L544.7,729.70" stroke="#1c1818" stroke-width="2"/>
<circle cx="634.1" cy="724.8" r="5.10" fill="#fff" stroke="#1c1818" stroke-width="2.4"/>
<path d="M629.20,724.8 L639.00,724.8 M634.1,719.90 L634.1,729.70" stroke="#1c1818" stroke-width="2"/>
<circle cx="697.2" cy="635.8" r="5.10" fill="#fff" stroke="#1c1818" stroke-width="2.4"/>
<path d="M692.30,635.8 L702.10,635.8 M697.2,630.90 L697.2,640.70" stroke="#1c1818" stroke-width="2"/>
<circle cx="787" cy="635.8" r="5.10" fill="#fff" stroke="#1c1818" stroke-width="2.4"/>
<path d="M782.10,635.8 L791.90,635.8 M787,630.90 L787,640.70" stroke="#1c1818" stroke-width="2"/>
<circle cx="697.2" cy="724.5" r="5.10" fill="#fff" stroke="#1c1818" stroke-width="2.4"/>
<path d="M692.30,724.5 L702.10,724.5 M697.2,719.60 L697.2,729.40" stroke="#1c1818" stroke-width="2"/>
<circle cx="787" cy="724.5" r="5.10" fill="#fff" stroke="#1c1818" stroke-width="2.4"/>
<path d="M782.10,724.5 L791.90,724.5 M787,719.60 L787,729.40" stroke="#1c1818" stroke-width="2"/>
<circle cx="589.6" cy="680.5" r="47.2" fill="#fff" stroke="#1c1818" stroke-width="1.9"/><path d="M613.4,680.5 L617.7,683.6 L621.5,687.6 L624.8,692.5 L627.3,698.2 L628.9,704.6" fill="none" stroke="#1c1818" stroke-width="1.8" opacity="0.9"/><path d="M613.3,682.6 L617.3,686.1 L620.8,690.5 L623.5,695.7 L625.5,701.6 L626.6,708.0" fill="none" stroke="#1c1818" stroke-width="1.0" opacity="0.7"/><path d="M604.4,699.1 L604.7,704.4 L603.9,709.9 L602.1,715.5 L599.2,721.0 L595.3,726.3" fill="none" stroke="#1c1818" stroke-width="1.8" opacity="0.9"/><path d="M602.7,700.4 L602.5,705.7 L601.2,711.1 L598.9,716.5 L595.5,721.7 L591.1,726.6" fill="none" stroke="#1c1818" stroke-width="1.0" opacity="0.7"/><path d="M584.3,703.7 L580.3,707.2 L575.5,710.0 L570.0,712.1 L563.9,713.3 L557.4,713.5" fill="none" stroke="#1c1818" stroke-width="1.8" opacity="0.9"/><path d="M582.2,703.1 L578.0,706.3 L572.9,708.7 L567.3,710.2 L561.1,710.8 L554.5,710.4" fill="none" stroke="#1c1818" stroke-width="1.0" opacity="0.7"/><path d="M568.2,690.8 L562.9,689.9 L557.7,687.9 L552.7,684.9 L548.0,680.9 L543.7,675.8" fill="none" stroke="#1c1818" stroke-width="1.8" opacity="0.9"/><path d="M567.3,688.9 L562.2,687.5 L557.2,685.0 L552.4,681.6 L548.1,677.1 L544.3,671.7" fill="none" stroke="#1c1818" stroke-width="1.0" opacity="0.7"/><path d="M568.2,670.2 L565.6,665.5 L563.9,660.2 L563.1,654.4 L563.4,648.2 L564.6,641.7" fill="none" stroke="#1c1818" stroke-width="1.8" opacity="0.9"/><path d="M569.2,668.3 L567.1,663.4 L565.9,658.0 L565.6,652.1 L566.4,645.9 L568.2,639.7" fill="none" stroke="#1c1818" stroke-width="1.0" opacity="0.7"/><path d="M584.3,657.3 L586.4,652.4 L589.5,647.8 L593.5,643.5 L598.5,639.8 L604.3,636.8" fill="none" stroke="#1c1818" stroke-width="1.8" opacity="0.9"/><path d="M586.4,656.9 L588.9,652.2 L592.4,647.9 L596.8,644.0 L602.1,640.8 L608.2,638.3" fill="none" stroke="#1c1818" stroke-width="1.0" opacity="0.7"/><path d="M604.4,661.9 L609.5,660.5 L615.1,660.0 L620.9,660.5 L627.0,662.1 L632.9,664.8" fill="none" stroke="#1c1818" stroke-width="1.8" opacity="0.9"/><path d="M606.1,663.3 L611.3,662.3 L616.8,662.4 L622.6,663.4 L628.5,665.5 L634.2,668.8" fill="none" stroke="#1c1818" stroke-width="1.0" opacity="0.7"/><circle cx="589.6" cy="680.5" r="40.1" fill="none" stroke="#1c1818" stroke-width="2.0"/><circle cx="589.6" cy="680.5" r="37.7" fill="none" stroke="#1c1818" stroke-width="1.9"/><circle cx="589.6" cy="680.5" r="30.700000000000003" fill="none" stroke="#1c1818" stroke-width="2.0"/><circle cx="589.6" cy="680.5" r="28.3" fill="none" stroke="#1c1818" stroke-width="1.9"/><circle cx="589.6" cy="680.5" r="23.900000000000002" fill="none" stroke="#1c1818" stroke-width="2.6"/><path d="M629.5,684.5 Q633.4,686.4 636.0,688.5 M624.4,700.4 Q627.3,703.4 628.8,706.7 M613.3,712.8 Q614.7,716.5 614.7,720.3 M598.1,719.7 Q598.0,723.4 596.4,727.1 M581.4,719.8 Q579.8,722.9 576.8,725.8 M566.2,713.1 Q563.5,715.0 559.5,716.7 M555.0,700.7 Q551.8,701.1 547.4,701.3 M549.7,684.9 Q546.7,683.7 542.5,682.4 M551.4,668.3 Q549.2,665.8 545.9,663.1 M559.7,653.8 Q558.7,650.4 556.7,646.8 M573.1,643.9 Q573.7,640.2 573.3,636.3 M589.4,640.4 Q591.5,636.9 592.7,633.5 M605.7,643.8 Q609.1,641.2 611.5,638.8 M619.3,653.5 Q623.5,652.3 626.6,651.3 M627.7,667.9 Q632.1,668.3 635.2,668.9" fill="none" stroke="#1c1818" stroke-width="2.1"/><path d="M619.3,688.1 Q623.1,689.8 625.6,691.6 M614.6,698.3 Q617.5,701.1 619.2,703.9 M606.5,706.2 Q608.3,709.5 608.7,713.0 M596.1,710.5 Q596.6,714.1 595.7,717.7 M584.8,710.8 Q584.0,714.1 581.8,717.4 M574.2,707.0 Q572.3,709.6 569.0,712.1 M565.6,699.7 Q563.0,701.2 559.0,702.5 M560.3,689.7 Q557.3,689.9 553.1,690.0 M559.0,678.5 Q556.1,677.4 552.1,676.2 M561.8,667.6 Q559.6,665.3 556.2,662.9 M568.3,658.4 Q567.1,655.3 564.8,652.1 M577.7,652.2 Q577.8,648.6 576.8,645.0 M588.8,649.8 Q590.1,646.3 590.5,642.8 M599.9,651.6 Q602.5,648.6 604.0,645.7 M609.7,657.3 Q613.2,655.2 615.6,653.2 M616.7,666.1 Q620.8,665.2 623.7,664.5 M620.1,676.8 Q624.2,677.3 627.2,677.9" fill="none" stroke="#1c1818" stroke-width="2.1"/><path d="M613.5,681.7 Q616.2,682.6 617.7,683.6 M612.1,688.7 Q614.4,690.2 615.6,691.8 M608.6,694.9 Q610.5,696.9 611.1,698.9 M603.5,699.9 Q604.8,702.1 604.7,704.4 M597.2,703.2 Q597.8,705.5 597.0,707.8 M590.2,704.4 Q590.1,706.6 588.6,708.8 M583.1,703.5 Q582.4,705.4 580.3,707.2 M576.6,700.6 Q575.4,702.0 572.8,703.3 M571.3,695.9 Q569.7,696.7 566.9,697.4 M567.6,689.8 Q565.9,689.9 562.9,689.9 M565.8,682.9 Q564.2,682.3 561.3,681.6 M566.2,675.8 Q564.8,674.6 562.2,673.2 M568.6,669.1 Q567.7,667.3 565.6,665.5 M572.9,663.4 Q572.5,661.3 571.1,659.1 M578.7,659.2 Q579.0,656.9 578.2,654.6 M585.5,657.0 Q586.4,654.7 586.4,652.4 M592.6,656.8 Q594.2,654.7 594.8,652.7 M599.4,658.7 Q601.6,657.0 602.8,655.5 M605.4,662.6 Q608.1,661.5 609.6,660.4 M610.0,668.0 Q612.9,667.6 614.6,667.2 M612.8,674.6 Q615.7,674.8 617.4,675.2" fill="none" stroke="#1c1818" stroke-width="2.0"/><path d="M617.7,683.9 Q619.4,684.5 620.0,685.1 M612.2,697.5 Q613.5,698.6 613.6,699.7 M600.7,706.5 Q601.4,707.8 600.8,709.1 M586.2,708.6 Q586.2,709.7 585.0,710.9 M572.6,703.1 Q572.1,703.8 570.4,704.5 M563.6,691.6 Q562.9,691.7 561.0,691.7 M561.5,677.1 Q561.0,676.5 559.2,675.9 M567.0,663.5 Q566.9,662.4 565.6,661.3 M578.5,654.5 Q579.0,653.2 578.4,651.9 M593.0,652.4 Q594.2,651.3 594.2,650.1 M606.6,657.9 Q608.3,657.2 608.8,656.5 M615.6,669.4 Q617.5,669.3 618.2,669.3" fill="none" stroke="#1c1818" stroke-width="1.6"/><circle cx="589.6" cy="680.5" r="22.8" fill="#fff"/>
<circle cx="742.2" cy="680.8" r="46.9" fill="#fff" stroke="#1c1818" stroke-width="1.9"/><path d="M764.7,687.8 L767.9,692.0 L770.4,696.9 L772.0,702.6 L772.7,708.7 L772.4,715.2" fill="none" stroke="#1c1818" stroke-width="1.8" opacity="0.9"/><path d="M764.0,689.8 L766.8,694.2 L768.8,699.4 L770.0,705.1 L770.1,711.3 L769.2,717.8" fill="none" stroke="#1c1818" stroke-width="1.0" opacity="0.7"/><path d="M750.8,702.8 L749.5,707.9 L747.2,712.9 L743.8,717.7 L739.4,722.1 L734.1,725.9" fill="none" stroke="#1c1818" stroke-width="1.8" opacity="0.9"/><path d="M748.8,703.5 L747.0,708.4 L744.3,713.2 L740.5,717.7 L735.7,721.7 L730.1,725.0" fill="none" stroke="#1c1818" stroke-width="1.0" opacity="0.7"/><path d="M730.4,701.2 L725.6,703.4 L720.2,704.7 L714.4,705.0 L708.2,704.4 L701.9,702.6" fill="none" stroke="#1c1818" stroke-width="1.8" opacity="0.9"/><path d="M728.6,700.1 L723.6,701.8 L718.1,702.6 L712.3,702.4 L706.2,701.2 L700.1,698.9" fill="none" stroke="#1c1818" stroke-width="1.0" opacity="0.7"/><path d="M718.9,684.3 L714.2,681.9 L709.8,678.5 L705.9,674.1 L702.6,668.9 L700.0,662.9" fill="none" stroke="#1c1818" stroke-width="1.8" opacity="0.9"/><path d="M718.6,682.2 L714.2,679.4 L710.1,675.6 L706.6,670.9 L703.8,665.4 L701.8,659.2" fill="none" stroke="#1c1818" stroke-width="1.0" opacity="0.7"/><path d="M724.9,664.7 L723.9,659.6 L723.8,654.0 L724.8,648.3 L726.8,642.4 L729.9,636.7" fill="none" stroke="#1c1818" stroke-width="1.8" opacity="0.9"/><path d="M726.4,663.2 L725.9,658.0 L726.3,652.5 L727.8,646.8 L730.3,641.2 L733.9,635.8" fill="none" stroke="#1c1818" stroke-width="1.0" opacity="0.7"/><path d="M744.0,657.3 L747.4,653.2 L751.7,649.7 L756.8,646.9 L762.6,644.8 L769.0,643.7" fill="none" stroke="#1c1818" stroke-width="1.8" opacity="0.9"/><path d="M746.1,657.5 L749.8,653.8 L754.4,650.7 L759.8,648.3 L765.7,646.8 L772.2,646.2" fill="none" stroke="#1c1818" stroke-width="1.0" opacity="0.7"/><path d="M761.7,667.5 L767.0,667.7 L772.4,668.8 L777.8,671.0 L783.0,674.3 L787.9,678.6" fill="none" stroke="#1c1818" stroke-width="1.8" opacity="0.9"/><path d="M762.8,669.3 L768.1,669.9 L773.3,671.6 L778.5,674.3 L783.5,678.0 L788.0,682.7" fill="none" stroke="#1c1818" stroke-width="1.0" opacity="0.7"/><circle cx="742.2" cy="680.8" r="39.8" fill="none" stroke="#1c1818" stroke-width="2.0"/><circle cx="742.2" cy="680.8" r="37.4" fill="none" stroke="#1c1818" stroke-width="1.9"/><circle cx="742.2" cy="680.8" r="30.4" fill="none" stroke="#1c1818" stroke-width="2.0"/><circle cx="742.2" cy="680.8" r="27.999999999999996" fill="none" stroke="#1c1818" stroke-width="1.9"/><circle cx="742.2" cy="680.8" r="23.700000000000003" fill="none" stroke="#1c1818" stroke-width="2.6"/><path d="M778.9,696.3 Q782.1,699.0 783.9,702.0 M769.4,709.9 Q771.3,713.4 771.7,717.1 M755.2,718.4 Q755.5,722.2 754.4,726.0 M738.8,720.5 Q737.6,723.8 734.9,727.0 M723.0,715.6 Q720.5,717.9 716.8,720.1 M710.4,704.8 Q707.4,705.7 703.0,706.3 M703.4,689.8 Q700.3,689.1 696.0,688.2 M703.1,673.3 Q700.6,671.1 697.0,668.7 M709.6,658.0 Q708.2,654.8 705.8,651.4 M721.7,646.7 Q721.8,643.0 720.9,639.1 M737.3,641.3 Q739.0,637.7 739.7,634.1 M753.8,642.7 Q756.8,639.8 758.9,637.1 M768.3,650.7 Q772.3,649.1 775.3,647.7 M778.2,663.9 Q782.6,663.8 785.9,664.0 M782.0,680.0 Q786.1,681.5 788.9,683.2" fill="none" stroke="#1c1818" stroke-width="2.1"/><path d="M768.1,696.7 Q771.2,699.2 773.1,701.9 M760.6,705.0 Q762.7,708.3 763.4,711.6 M750.6,710.0 Q751.4,713.6 750.8,717.2 M739.5,711.1 Q739.0,714.5 737.1,717.8 M728.8,708.1 Q727.1,710.8 724.0,713.5 M719.8,701.4 Q717.3,703.1 713.4,704.7 M713.9,691.9 Q710.9,692.4 706.7,692.7 M711.8,680.9 Q708.9,680.1 704.8,679.1 M713.8,669.9 Q711.4,667.9 708.0,665.7 M719.6,660.4 Q718.2,657.5 715.7,654.4 M728.5,653.6 Q728.3,650.1 727.1,646.6 M739.3,650.5 Q740.4,647.0 740.5,643.4 M750.4,651.5 Q752.7,648.4 754.1,645.3 M760.4,656.5 Q763.8,654.2 766.1,652.0 M768.0,664.7 Q772.0,663.6 774.9,662.6 M772.1,675.1 Q776.2,675.3 779.2,675.6 M772.1,686.3 Q776.0,687.7 778.6,689.3" fill="none" stroke="#1c1818" stroke-width="2.1"/><path d="M764.5,688.9 Q766.8,690.4 767.9,692.0 M761.1,695.1 Q762.9,697.0 763.4,699.0 M756.0,700.1 Q757.2,702.2 757.1,704.5 M749.7,703.3 Q750.3,705.5 749.5,707.8 M742.8,704.5 Q742.6,706.6 741.2,708.8 M735.8,703.6 Q735.0,705.5 733.0,707.2 M729.3,700.7 Q728.1,702.1 725.6,703.4 M724.0,696.0 Q722.5,696.8 719.7,697.5 M720.4,690.0 Q718.7,690.1 715.8,690.1 M718.6,683.1 Q717.0,682.6 714.2,681.9 M719.0,676.1 Q717.6,674.9 715.1,673.6 M721.4,669.4 Q720.5,667.7 718.5,665.9 M725.7,663.8 Q725.3,661.7 723.9,659.6 M731.4,659.7 Q731.7,657.4 731.0,655.2 M738.1,657.5 Q739.1,655.2 739.0,653.0 M745.2,657.3 Q746.8,655.3 747.4,653.3 M752.0,659.2 Q754.2,657.6 755.2,656.0 M757.9,663.0 Q760.5,662.0 762.0,661.0 M762.4,668.5 Q765.3,668.0 766.9,667.7 M765.2,675.0 Q768.0,675.2 769.7,675.6 M765.9,682.0 Q768.6,682.9 770.0,683.9" fill="none" stroke="#1c1818" stroke-width="2.0"/><path d="M767.8,692.2 Q769.3,693.1 769.6,694.0 M758.6,703.5 Q759.6,704.7 759.3,705.9 M745.1,708.6 Q745.4,709.9 744.4,711.1 M730.8,706.4 Q730.5,707.3 729.0,708.2 M719.5,697.2 Q718.9,697.6 717.1,697.9 M714.4,683.7 Q713.7,683.4 711.9,683.0 M716.6,669.4 Q716.3,668.5 714.8,667.6 M725.8,658.1 Q726.0,656.9 725.1,655.7 M739.3,653.0 Q740.2,651.7 740.0,650.5 M753.6,655.2 Q755.1,654.3 755.4,653.4 M764.9,664.4 Q766.7,664.0 767.3,663.7 M770.0,677.9 Q771.9,678.2 772.5,678.6" fill="none" stroke="#1c1818" stroke-width="1.6"/><circle cx="742.2" cy="680.8" r="22.6" fill="#fff"/>
<rect x="640.9" y="680.3" width="49.6" height="35" rx="19" ry="16.5" fill="#fff" stroke="#1c1818" stroke-width="2"/>
<clipPath id="batclip"><rect x="645.4" y="685" width="40.8" height="26.2" rx="13" ry="12"/></clipPath>
<g clip-path="url(#batclip)"><path d="M665.5,697.9 L691.5,697.8 L691.2,700.4 Z M665.5,697.9 L690.5,702.6 L689.1,705.0 Z M665.5,697.9 L687.4,707.0 L685.1,709.1 Z M665.5,697.9 L682.6,710.7 L679.5,712.2 Z M665.5,697.9 L676.4,713.3 L672.8,714.2 Z M665.5,697.9 L669.3,714.7 L665.4,714.9 Z M665.5,697.9 L661.9,714.7 L658.1,714.2 Z M665.5,697.9 L654.8,713.4 L651.4,712.2 Z M665.5,697.9 L648.6,710.8 L645.8,709.0 Z M665.5,697.9 L643.7,707.2 L641.8,704.9 Z M665.5,697.9 L640.6,702.8 L639.8,700.3 Z M665.5,697.9 L639.5,698.0 L639.8,695.4 Z M665.5,697.9 L640.5,693.2 L641.9,690.8 Z M665.5,697.9 L643.6,688.8 L645.9,686.7 Z M665.5,697.9 L648.4,685.1 L651.5,683.6 Z M665.5,697.9 L654.6,682.5 L658.2,681.6 Z M665.5,697.9 L661.7,681.1 L665.6,680.9 Z M665.5,697.9 L669.1,681.1 L672.9,681.6 Z M665.5,697.9 L676.2,682.4 L679.6,683.6 Z M665.5,697.9 L682.4,685.0 L685.2,686.8 Z M665.5,697.9 L687.3,688.6 L689.2,690.9 Z M665.5,697.9 L690.4,693.0 L691.2,695.5 Z" fill="#1c1818"/></g>
<ellipse cx="665.5" cy="697.9" rx="5.5" ry="4.2" fill="#1c1818"/>
<rect x="645.4" y="685" width="40.8" height="26.2" rx="13" ry="12" fill="none" stroke="#1c1818" stroke-width="2.2"/>
<circle cx="665.4" cy="697.8" r="2.1" fill="#fff"/>
<rect x="647.3" y="720.1" width="37.6" height="6" fill="#fff" stroke="#1c1818" stroke-width="1.6"/>
<line x1="666.4" y1="720" x2="666.4" y2="726.3" stroke="#1c1818" stroke-width="1.2"/>
<rect x="649.2" y="721.7" width="15.5" height="2.8" fill="#aaa"/>
<rect x="668.2" y="721.7" width="11" height="2.8" fill="#999"/><rect x="680" y="722.3" width="3.5" height="1.8" fill="#333"/>
<text x="654.6" y="732.8" font-family="Liberation Sans" font-weight="bold" font-size="5.4" fill="#333" textLength="22.9" lengthAdjust="spacingAndGlyphs">BATTERY</text>
<circle cx="744" cy="607.6" r="15.2" fill="#fff" stroke="#1c1818" stroke-width="1.6"/>
<circle cx="744" cy="607.7" r="10.8" fill="#fff" stroke="#1c1818" stroke-width="1.9"/>
<path d="M737,598.6 Q744,596 751,598.6 L751,600 L737,600 Z" fill="#1c1818"/>
<path d="M735.5,612.5 L752.5,612.5 M741.3,599 L741.3,612.5 M746.7,599 L746.7,612.5 M739.2,601 A4.3,5.2 0 0 0 739.2,611.2 M748.8,601 A4.3,5.2 0 0 1 748.8,611.2" fill="none" stroke="#1c1818" stroke-width="1.3"/>
<circle cx="718.3" cy="617.8" r="4.4" fill="#2a2222"/>
<circle cx="718.3" cy="617.8" r="1.98" fill="none" stroke="#5a5050" stroke-width="0.7"/>
<circle cx="769.4" cy="617.8" r="4.4" fill="#2a2222"/>
<circle cx="769.4" cy="617.8" r="1.98" fill="none" stroke="#5a5050" stroke-width="0.7"/>
<path d="M735,629.3 L736.6,629.3 M741.4,629 L746,629 M750.5,629.3 L753.5,629.3" stroke="#333" stroke-width="1.4"/>
<line x1="390.6" y1="524" x2="390.6" y2="650.5" stroke="#c0404c" stroke-width="1"/>
<line x1="391" y1="650.5" x2="401" y2="650.5" stroke="#962634" stroke-width="1.3" stroke-dasharray="1.7 2"/>
<line x1="390.5" y1="659.6" x2="390.5" y2="758" stroke="#c0404c" stroke-width="1"/>
<line x1="391" y1="659.6" x2="401" y2="659.6" stroke="#962634" stroke-width="1.3" stroke-dasharray="1.7 2"/>
<line x1="450.4" y1="524.5" x2="450.4" y2="622" stroke="#962634" stroke-width="1.5" stroke-dasharray="1.7 2"/>
<line x1="486" y1="524.5" x2="486" y2="622" stroke="#962634" stroke-width="1.5" stroke-dasharray="1.7 2"/>
<line x1="587.5" y1="525" x2="587.5" y2="600" stroke="#962634" stroke-width="1.5" stroke-dasharray="1.7 2"/>
<line x1="744.5" y1="525" x2="744.5" y2="600" stroke="#962634" stroke-width="1.5" stroke-dasharray="1.7 2"/>
<line x1="443" y1="697" x2="443" y2="758" stroke="#962634" stroke-width="1.5" stroke-dasharray="1.7 2"/>
<line x1="469.7" y1="697" x2="469.7" y2="758" stroke="#962634" stroke-width="1.5" stroke-dasharray="1.7 2"/>
<line x1="503.2" y1="700" x2="503.2" y2="758" stroke="#962634" stroke-width="1.5" stroke-dasharray="1.7 2"/>
<line x1="587.4" y1="728" x2="587.4" y2="758" stroke="#962634" stroke-width="1.5" stroke-dasharray="1.7 2"/>
<line x1="666.4" y1="720" x2="666.4" y2="758" stroke="#962634" stroke-width="1.5" stroke-dasharray="1.7 2"/>
<circle cx="389.6" cy="512.7" r="11.8" fill="#e01a14" stroke="#b5141a" stroke-width="0.7"/>
<text x="389.6" y="518.8" text-anchor="middle" font-family="Liberation Sans" font-size="17.6" fill="#fff5f2" letter-spacing="-0.7">10</text>
<circle cx="450.4" cy="512.7" r="11.8" fill="#e01a14" stroke="#b5141a" stroke-width="0.7"/>
<text x="450.4" y="518.8" text-anchor="middle" font-family="Liberation Sans" font-size="17.6" fill="#fff5f2" letter-spacing="-0.7">11</text>
<circle cx="485.9" cy="512.7" r="11.8" fill="#e01a14" stroke="#b5141a" stroke-width="0.7"/>
<text x="485.9" y="518.8" text-anchor="middle" font-family="Liberation Sans" font-size="17.6" fill="#fff5f2" letter-spacing="-0.7">12</text>
<circle cx="587.5" cy="513.2" r="11.8" fill="#e01a14" stroke="#b5141a" stroke-width="0.7"/>
<text x="587.5" y="519.3" text-anchor="middle" font-family="Liberation Sans" font-size="17.6" fill="#fff5f2" letter-spacing="-0.7">13</text>
<circle cx="744.7" cy="513" r="11.8" fill="#e01a14" stroke="#b5141a" stroke-width="0.7"/>
<text x="744.7" y="519.1" text-anchor="middle" font-family="Liberation Sans" font-size="17.6" fill="#fff5f2" letter-spacing="-0.7">14</text>
<circle cx="390.5" cy="769.3" r="11.8" fill="#e01a14" stroke="#b5141a" stroke-width="0.7"/>
<text x="390.5" y="775.4" text-anchor="middle" font-family="Liberation Sans" font-size="17.6" fill="#fff5f2" letter-spacing="-0.7">15</text>
<circle cx="443.2" cy="769.6" r="11.8" fill="#e01a14" stroke="#b5141a" stroke-width="0.7"/>
<text x="443.2" y="775.7" text-anchor="middle" font-family="Liberation Sans" font-size="17.6" fill="#fff5f2" letter-spacing="-0.7">16</text>
<circle cx="470.4" cy="769.6" r="11.8" fill="#e01a14" stroke="#b5141a" stroke-width="0.7"/>
<text x="470.4" y="775.7" text-anchor="middle" font-family="Liberation Sans" font-size="17.6" fill="#fff5f2" letter-spacing="-0.7">17</text>
<circle cx="503.5" cy="769.6" r="11.8" fill="#e01a14" stroke="#b5141a" stroke-width="0.7"/>
<text x="503.5" y="775.7" text-anchor="middle" font-family="Liberation Sans" font-size="17.6" fill="#fff5f2" letter-spacing="-0.7">18</text>
<circle cx="587.5" cy="769.5" r="11.8" fill="#e01a14" stroke="#b5141a" stroke-width="0.7"/>
<text x="587.5" y="775.6" text-anchor="middle" font-family="Liberation Sans" font-size="17.6" fill="#fff5f2" letter-spacing="-0.7">19</text>
<circle cx="666.4" cy="769.5" r="11.8" fill="#e01a14" stroke="#b5141a" stroke-width="0.7"/>
<text x="666.4" y="775.6" text-anchor="middle" font-family="Liberation Sans" font-size="17.6" fill="#fff5f2" letter-spacing="-0.7">20</text>
<text x="613.1" y="853.4" text-anchor="middle" font-family="Liberation Sans" font-size="25" fill="#1a1a1a" textLength="117.4" lengthAdjust="spacingAndGlyphs">IVEM6048</text>
<text x="148.0" y="975.3" font-family="Liberation Sans" font-size="19.6" fill="#0e0e0e" textLength="121.7" lengthAdjust="spacingAndGlyphs">1.LCD display</text>
<text x="148.0" y="1009.9" font-family="Liberation Sans" font-size="19.6" fill="#0e0e0e" textLength="183.2" lengthAdjust="spacingAndGlyphs">2.Charging indicator</text>
<text x="148.0" y="1044.5" font-family="Liberation Sans" font-size="19.6" fill="#0e0e0e" textLength="228.2" lengthAdjust="spacingAndGlyphs">3. Utility bypass indicator</text>
<text x="148.0" y="1079.1" font-family="Liberation Sans" font-size="19.6" fill="#0e0e0e" textLength="175" lengthAdjust="spacingAndGlyphs">4.Inverter indicator</text>
<text x="148.0" y="1113.7" font-family="Liberation Sans" font-size="19.6" fill="#0e0e0e" textLength="249.9" lengthAdjust="spacingAndGlyphs">5.Fault or warning indicator</text>
<text x="148.0" y="1148.3" font-family="Liberation Sans" font-size="19.6" fill="#0e0e0e" textLength="116.7" lengthAdjust="spacingAndGlyphs">6.ESC button</text>
<text x="148.0" y="1182.9" font-family="Liberation Sans" font-size="19.6" fill="#0e0e0e" textLength="104.4" lengthAdjust="spacingAndGlyphs">7.UP button</text>
<text x="452.4" y="975.3" font-family="Liberation Sans" font-size="19.6" fill="#0e0e0e" textLength="143.2" lengthAdjust="spacingAndGlyphs">8.DOWN button</text>
<text x="452.4" y="1009.9" font-family="Liberation Sans" font-size="19.6" fill="#0e0e0e" textLength="144.3" lengthAdjust="spacingAndGlyphs">9.ENTER button</text>
<text x="452.4" y="1044.5" font-family="Liberation Sans" font-size="19.6" fill="#0e0e0e" textLength="88.8" lengthAdjust="spacingAndGlyphs">10.Switch</text>
<text x="452.4" y="1079.1" font-family="Liberation Sans" font-size="19.6" fill="#0e0e0e" textLength="149.2" lengthAdjust="spacingAndGlyphs">11.AC input port</text>
<text x="452.4" y="1113.7" font-family="Liberation Sans" font-size="19.6" fill="#0e0e0e" textLength="162.6" lengthAdjust="spacingAndGlyphs">12.AC output port</text>
<text x="452.4" y="1148.3" font-family="Liberation Sans" font-size="19.6" fill="#0e0e0e" textLength="244" lengthAdjust="spacingAndGlyphs">13.Parallel connection port</text>
<text x="452.4" y="1182.9" font-family="Liberation Sans" font-size="19.6" fill="#0e0e0e" textLength="254" lengthAdjust="spacingAndGlyphs">14.PV input connection port</text>
<text x="739.6" y="975.3" font-family="Liberation Sans" font-size="19.6" fill="#0e0e0e" textLength="272.1" lengthAdjust="spacingAndGlyphs">15.WIFI input connection port</text>
<text x="739.6" y="1009.9" font-family="Liberation Sans" font-size="19.6" fill="#0e0e0e" textLength="282.9" lengthAdjust="spacingAndGlyphs">16.RS-232 Communication port</text>
<text x="739.6" y="1044.5" font-family="Liberation Sans" font-size="19.6" fill="#0e0e0e" textLength="270.7" lengthAdjust="spacingAndGlyphs">17.BMS Communication port *</text>
<text x="739.6" y="1079.1" font-family="Liberation Sans" font-size="19.6" fill="#0e0e0e" textLength="131.6" lengthAdjust="spacingAndGlyphs">18.Dry contact</text>
<text x="739.6" y="1113.7" font-family="Liberation Sans" font-size="19.6" fill="#0e0e0e" textLength="130" lengthAdjust="spacingAndGlyphs">19.Cooling fan</text>
<text x="739.6" y="1148.3" font-family="Liberation Sans" font-size="19.6" fill="#0e0e0e" textLength="294" lengthAdjust="spacingAndGlyphs">20.Battery input connection port</text>
</svg>
</body></html>
